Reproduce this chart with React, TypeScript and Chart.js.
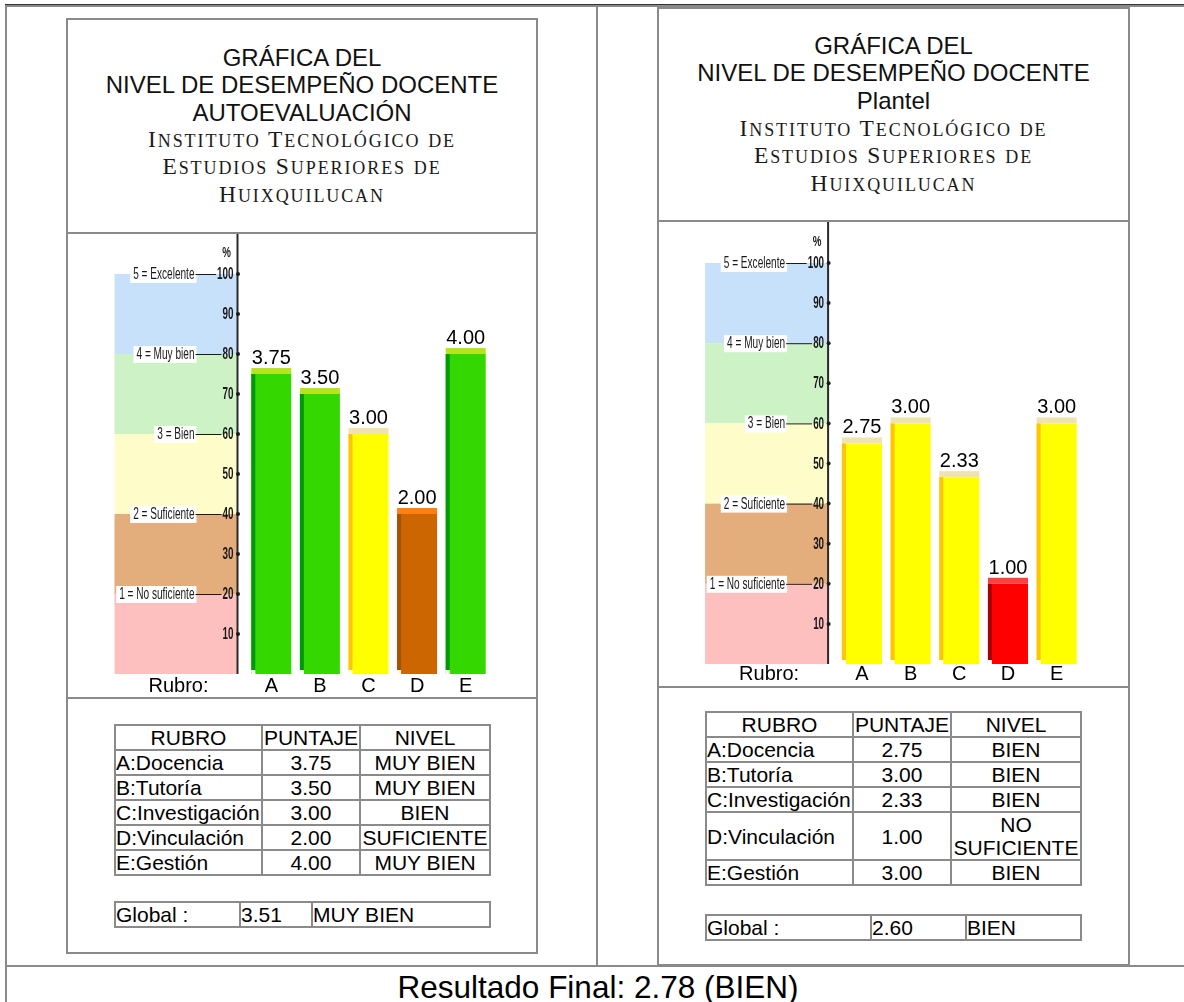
import React, { useEffect, useRef } from 'react';
import { Chart, registerables } from 'chart.js';

Chart.register(...registerables);

// ---------- DATA ----------
const rubros = ['A', 'B', 'C', 'D', 'E'];
const rubroNames = ['A:Docencia', 'B:Tutoría', 'C:Investigación', 'D:Vinculación', 'E:Gestión'];
const autoScores = [3.75, 3.5, 3.0, 2.0, 4.0];
const autoLevels = ['MUY BIEN', 'MUY BIEN', 'BIEN', 'SUFICIENTE', 'MUY BIEN'];
const plantelScores = [2.75, 3.0, 2.33, 1.0, 3.0];
const plantelLevels = ['BIEN', 'BIEN', 'BIEN', 'NO SUFICIENTE', 'BIEN'];
const autoGlobal = ['3.51', 'MUY BIEN'];
const plantelGlobal = ['2.60', 'BIEN'];
const finalResult = ['2.78', 'BIEN'];
const percentTicks = [10, 20, 30, 40, 50, 60, 70, 80, 90, 100];
const bandLevels = [5, 4, 3, 2, 1];
const bandLabels = ['5 = Excelente', '4 = Muy bien', '3 = Bien', '2 = Suficiente', '1 = No suficiente'];
const titleAuto = ['GRÁFICA DEL', 'NIVEL DE DESEMPEÑO DOCENTE', 'AUTOEVALUACIÓN'];
const titlePlantel = ['GRÁFICA DEL', 'NIVEL DE DESEMPEÑO DOCENTE', 'Plantel'];
const institute = ['Instituto Tecnológico de', 'Estudios Superiores de', 'Huixquilucan'];

// ---------- STYLES ----------
const FONT = '"Liberation Sans", Arial, Helvetica, sans-serif';
const SERIF = '"Liberation Serif", "Times New Roman", serif';
const GRAY = '#8a8a8a';
const LEVEL_STYLE: Record<string, { body: string; cap: string; side: string }> = {
  'MUY BIEN': { body: '#34d800', cap: '#b5e61d', side: '#009a00' },
  'BIEN': { body: '#ffff00', cap: '#efe4b0', side: '#ffc20e' },
  'SUFICIENTE': { body: '#cc6600', cap: '#ff7f10', side: '#a55200' },
  'NO SUFICIENTE': { body: '#ff0000', cap: '#ff4040', side: '#a80000' },
};
const BAND_COLORS = ['#c8e1fb', '#ccf2c6', '#fefdc9', '#e3ad7c', '#febfbf'];

function narrowText(ctx: CanvasRenderingContext2D, text: string, x: number, y: number, sx: number, align: CanvasTextAlign) {
  ctx.save();
  ctx.translate(x, y);
  ctx.scale(sx, 1);
  ctx.textAlign = align;
  ctx.fillText(text, 0, 0);
  ctx.restore();
}

function makeDecor(levels: string[], scores: number[]) {
  return {
    id: 'decor',
    beforeDatasetsDraw(chart: any) {
      const ctx: CanvasRenderingContext2D = chart.ctx;
      const ys = chart.scales.y;
      const area = chart.chartArea;
      const ax = area.left - 9.5;
      ctx.save();
      // bands
      bandLevels.forEach((lv, i) => {
        const t = ys.getPixelForValue(lv);
        const b = ys.getPixelForValue(lv - 1);
        ctx.fillStyle = BAND_COLORS[i];
        ctx.fillRect(ax - 123, t, 123, b - t);
      });
      // axis line
      ctx.strokeStyle = '#2a2a2a';
      ctx.lineWidth = 2;
      ctx.beginPath();
      ctx.moveTo(ax, 0);
      ctx.lineTo(ax, ys.getPixelForValue(0));
      ctx.stroke();
      // tick numbers + dots
      ctx.fillStyle = '#1a1a1a';
      ctx.textBaseline = 'middle';
      const numLeft: Record<number, number> = {};
      percentTicks.forEach((p) => {
        const py = ys.getPixelForValue(p / 20);
        ctx.beginPath();
        ctx.arc(ax + 0.5, py, 2, 0, Math.PI * 2);
        ctx.fill();
        ctx.font = `bold 17px ${FONT}`;
        const w = ctx.measureText(String(p)).width * 0.58;
        numLeft[p] = ax - 4 - w;
        narrowText(ctx, String(p), ax - 4, py + 0.5, 0.58, 'right');
      });
      // percent sign
      ctx.font = `bold 15px ${FONT}`;
      narrowText(ctx, '%', ax - 11, ys.getPixelForValue(5) - 21, 0.65, 'center');
      // band labels
      bandLevels.forEach((lv, i) => {
        const py = ys.getPixelForValue(lv);
        ctx.font = `16px ${FONT}`;
        const w = ctx.measureText(bandLabels[i]).width * 0.63;
        const tr = ax - 43;
        ctx.fillStyle = '#ffffff';
        ctx.fillRect(tr - w - 3, py - 8, w + 5, 17);
        ctx.fillStyle = '#1a1a1a';
        narrowText(ctx, bandLabels[i], tr, py + 0.5, 0.63, 'right');
        ctx.strokeStyle = '#1a1a1a';
        ctx.lineWidth = 1;
        ctx.beginPath();
        ctx.moveTo(tr + 1, py + 0.5);
        ctx.lineTo(numLeft[lv * 20] - 1, py + 0.5);
        ctx.stroke();
      });
      // Rubro label
      ctx.fillStyle = '#000';
      ctx.font = `20px ${FONT}`;
      ctx.textAlign = 'center';
      const xs = chart.scales.x;
      ctx.textBaseline = 'middle';
      ctx.fillText('Rubro:', ax - 59, xs.top + (xs.options.ticks.padding || 0) + 10);
      ctx.restore();
    },
    afterDatasetsDraw(chart: any) {
      const ctx: CanvasRenderingContext2D = chart.ctx;
      const meta = chart.getDatasetMeta(0);
      ctx.save();
      meta.data.forEach((bar: any, i: number) => {
        const { x, y, base, width } = bar.getProps(['x', 'y', 'base', 'width'], true);
        const st = LEVEL_STYLE[levels[i]];
        const left = x - width / 2;
        ctx.fillStyle = st.cap;
        ctx.fillRect(left, y - 6, width, 6);
        ctx.fillStyle = st.side;
        ctx.fillRect(left, y, 4, base - y - 4);
        ctx.fillStyle = '#ffffff';
        ctx.fillRect(left, base - 4, 4, 4);
        ctx.fillStyle = '#000';
        ctx.font = `20px ${FONT}`;
        ctx.textAlign = 'center';
        ctx.textBaseline = 'alphabetic';
        ctx.fillText(scores[i].toFixed(2), x, y - 10);
      });
      ctx.restore();
    },
  };
}

function BarChart(props: {
  scores: number[]; levels: string[]; left: number; top: number; width: number; height: number;
  pad: { left: number; right: number; top: number }; tickPad: number;
}) {
  const ref = useRef<HTMLCanvasElement | null>(null);
  useEffect(() => {
    if (!ref.current) return;
    const chart = new Chart(ref.current, {
      type: 'bar',
      data: {
        labels: rubros,
        datasets: [{
          data: props.scores,
          backgroundColor: props.levels.map((l) => LEVEL_STYLE[l].body),
          borderWidth: 0,
          barPercentage: 0.823,
          categoryPercentage: 1,
        }],
      },
      options: {
        responsive: false,
        animation: false,
        devicePixelRatio: 1,
        layout: { padding: { left: props.pad.left, right: props.pad.right, top: props.pad.top, bottom: 0 } },
        plugins: { legend: { display: false }, tooltip: { enabled: false }, title: { display: false } },
        scales: {
          x: {
            grid: { display: false, drawTicks: false },
            border: { display: false },
            ticks: { color: '#000', padding: props.tickPad, font: { family: FONT, size: 20, lineHeight: 1 } },
          },
          y: { display: false, min: 0, max: 5 },
        },
      } as any,
      plugins: [makeDecor(props.levels, props.scores) as any],
    });
    return () => chart.destroy();
  }, []);
  return (
    <canvas
      ref={ref}
      width={props.width}
      height={props.height}
      style={{ position: 'absolute', left: props.left, top: props.top, width: props.width, height: props.height }}
    />
  );
}

function SmallCaps(props: { text: string }) {
  const parts: React.ReactNode[] = [];
  Array.from(props.text).forEach((ch, i) => {
    const isUpper = ch !== ch.toLowerCase();
    if (ch === ' ') parts.push(<span key={i} style={{ fontSize: 23.5 }}> </span>);
    else parts.push(<span key={i} style={{ fontSize: isUpper ? 23.5 : 18 }}>{ch.toUpperCase()}</span>);
  });
  return <>{parts}</>;
}

function Title(props: { lines: string[]; left: number; top: number; width: number; height: number; lh: number }) {
  return (
    <div style={{
      position: 'absolute', left: props.left, top: props.top, width: props.width, height: props.height,
      display: 'flex', flexDirection: 'column', justifyContent: 'center', alignItems: 'center', textAlign: 'center',
    }}>
      {props.lines.map((l, i) => (
        <div key={'a' + i} style={{ fontFamily: FONT, fontSize: 24, lineHeight: props.lh + 'px', height: props.lh, color: '#111' }}>{l}</div>
      ))}
      {institute.map((l, i) => (
        <div key={'b' + i} style={{
          fontFamily: SERIF, fontSize: 23.5, letterSpacing: '1.9px', whiteSpace: 'nowrap',
          lineHeight: props.lh + 'px', height: props.lh, color: '#1a1a1a',
        }}><SmallCaps text={l} /></div>
      ))}
    </div>
  );
}

const cell: React.CSSProperties = {
  border: `2px solid ${GRAY}`, padding: 0, lineHeight: '23px', fontFamily: FONT, fontSize: 21, color: '#000',
  verticalAlign: 'middle', whiteSpace: 'normal',
};

function ScoreTable(props: { scores: number[]; levels: string[]; left: number; top: number }) {
  return (
    <table style={{ position: 'absolute', left: props.left, top: props.top, width: 375, borderCollapse: 'collapse', tableLayout: 'fixed' }}>
      <colgroup>
        <col style={{ width: 147 }} />
        <col style={{ width: 98 }} />
        <col style={{ width: 130 }} />
      </colgroup>
      <tbody>
        <tr>
          <td style={{ ...cell, textAlign: 'center' }}>RUBRO</td>
          <td style={{ ...cell, textAlign: 'center' }}>PUNTAJE</td>
          <td style={{ ...cell, textAlign: 'center' }}>NIVEL</td>
        </tr>
        {rubroNames.map((n, i) => (
          <tr key={n}>
            <td style={{ ...cell, textAlign: 'left' }}>{n}</td>
            <td style={{ ...cell, textAlign: 'center' }}>{props.scores[i].toFixed(2)}</td>
            <td style={{ ...cell, textAlign: 'center' }}>{props.levels[i]}</td>
          </tr>
        ))}
      </tbody>
    </table>
  );
}

function GlobalTable(props: { values: string[]; left: number; top: number; cols: number[] }) {
  return (
    <table style={{ position: 'absolute', left: props.left, top: props.top, width: 375, borderCollapse: 'collapse', tableLayout: 'fixed' }}>
      <colgroup>
        {props.cols.map((c, i) => <col key={i} style={{ width: c }} />)}
      </colgroup>
      <tbody>
        <tr>
          <td style={{ ...cell, textAlign: 'left' }}>Global :</td>
          <td style={{ ...cell, textAlign: 'left' }}>{props.values[0]}</td>
          <td style={{ ...cell, textAlign: 'left' }}>{props.values[1]}</td>
        </tr>
      </tbody>
    </table>
  );
}

function Box(props: { left: number; top: number; width: number; height: number }) {
  return <div style={{ position: 'absolute', left: props.left, top: props.top, width: props.width, height: props.height, background: GRAY }} />;
}

export default function App() {
  return (
    <div style={{ position: 'absolute', left: 0, top: 0, width: 1184, height: 1002, overflow: 'hidden', background: '#fff' }}>
      {/* outer frame */}
      <div style={{ position: 'absolute', left: 5, top: 4, width: 1300, height: 1, background: '#333' }} />
      <Box left={5} top={5} width={1300} height={2} />
      <Box left={5} top={5} width={2} height={1100} />
      <Box left={596} top={5} width={2} height={962} />
      <Box left={5} top={965} width={1300} height={2} />

      {/* left panel */}
      <div style={{ position: 'absolute', left: 66, top: 18, width: 472, height: 936, border: `2px solid ${GRAY}`, boxSizing: 'border-box' }} />
      <Box left={66} top={232} width={472} height={2} />
      <Box left={66} top={697} width={472} height={2} />
      <Title lines={titleAuto} left={68} top={20} width={468} height={212} lh={27.3} />
      <BarChart scores={autoScores} levels={autoLevels} left={68} top={234} width={468} height={464}
        pad={{ left: 179, right: 46, top: 40 }} tickPad={2} />
      <ScoreTable scores={autoScores} levels={autoLevels} left={114} top={724} />
      <GlobalTable values={autoGlobal} left={114} top={901} cols={[125, 72, 178]} />

      {/* right panel */}
      <div style={{ position: 'absolute', left: 657, top: 7, width: 473, height: 959, border: `2px solid ${GRAY}`, boxSizing: 'border-box' }} />
      <Box left={657} top={220} width={473} height={2} />
      <Box left={657} top={686} width={473} height={2} />
      <Title lines={titlePlantel} left={659} top={9} width={469} height={211} lh={27.6} />
      <BarChart scores={plantelScores} levels={plantelLevels} left={659} top={222} width={469} height={462}
        pad={{ left: 178.6, right: 47, top: 41 }} tickPad={0} />
      <ScoreTable scores={plantelScores} levels={plantelLevels} left={705} top={711} />
      <GlobalTable values={plantelGlobal} left={705} top={914} cols={[165, 95, 115]} />

      {/* final result */}
      <div style={{
        position: 'absolute', left: 7, top: 967, width: 1182, height: 40, textAlign: 'center',
        fontFamily: FONT, fontSize: 31.5, lineHeight: '40px', color: '#000',
      }}>
        {`Resultado Final: ${finalResult[0]} (${finalResult[1]})`}
      </div>
    </div>
  );
}
